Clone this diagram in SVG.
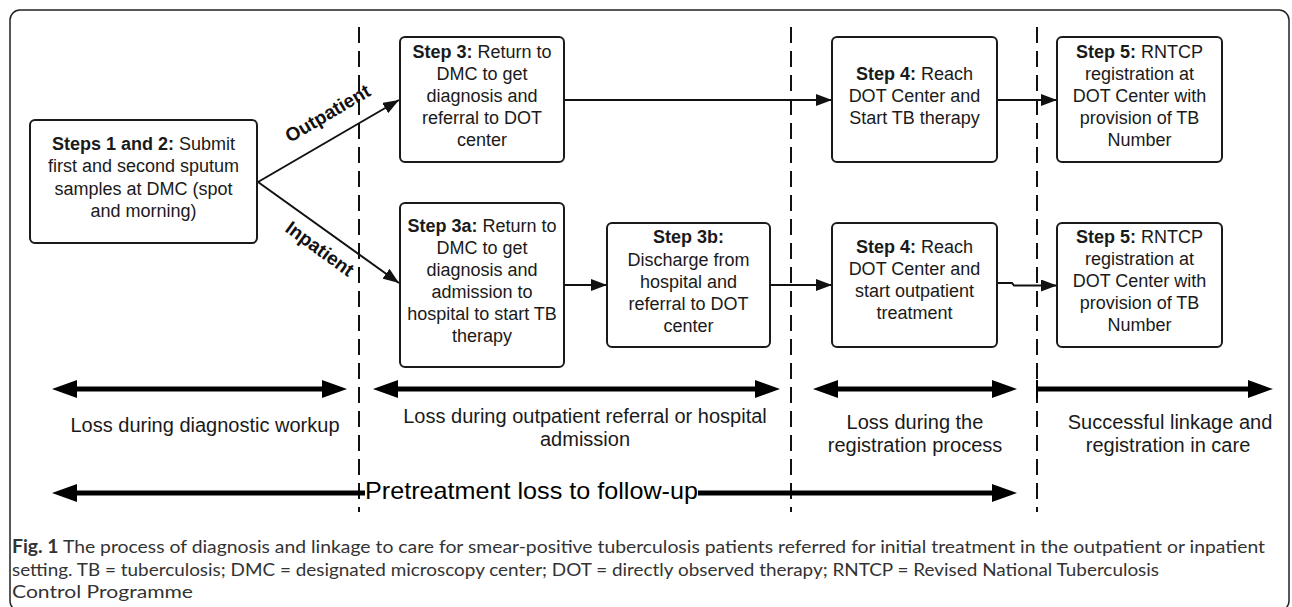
<svg xmlns="http://www.w3.org/2000/svg" width="1292" height="607" viewBox="0 0 1292 607">
<style>
.box{fill:#fff;stroke:#1a1a1a;stroke-width:2}
.t{font-family:"Liberation Sans",Arial,sans-serif;font-size:18px;fill:#1a1a1a;text-anchor:middle}
.b{font-weight:bold}
.lab{font-family:"Liberation Sans",Arial,sans-serif;font-size:20px;fill:#1a1a1a;text-anchor:middle}
.lbl{font-family:"Liberation Sans",Arial,sans-serif;font-size:19px;font-weight:bold;fill:#111;text-anchor:middle}
.conn{stroke:#111;stroke-width:2;fill:none}
.thick{stroke:#000;stroke-width:5;fill:none}
.dash{stroke:#111;stroke-width:2;stroke-dasharray:16 8;fill:none}
.cap{font-family:Lato,"Open Sans","Liberation Sans",sans-serif;font-size:18px;fill:#333}
</style>
<defs>
<marker id="ah" markerUnits="userSpaceOnUse" markerWidth="16" markerHeight="12" refX="16" refY="6" orient="auto"><path d="M0,0 L16,6 L0,12 z" fill="#111"/></marker>
<marker id="big" markerUnits="userSpaceOnUse" markerWidth="25" markerHeight="18" refX="0" refY="9" orient="auto-start-reverse"><path d="M0,0 L25,9 L0,18 z" fill="#000"/></marker>
</defs>
<rect x="10" y="10" width="1279" height="601" rx="10" fill="#fff" stroke="#222" stroke-width="1.5"/>
<g id="dividers">
<line class="dash" x1="359" y1="27" x2="359" y2="512"/>
<line class="dash" x1="791" y1="27" x2="791" y2="512"/>
<line class="dash" x1="1037" y1="27" x2="1037" y2="512"/>
</g>
<g id="connectors">
<line class="conn" x1="258" y1="182" x2="399" y2="100" marker-end="url(#ah)"/>
<line class="conn" x1="258" y1="182" x2="399" y2="283" marker-end="url(#ah)"/>
<line class="conn" x1="564" y1="100" x2="832" y2="100" marker-end="url(#ah)"/>
<line class="conn" x1="997" y1="100" x2="1057" y2="100" marker-end="url(#ah)"/>
<line class="conn" x1="564" y1="285" x2="607" y2="285" marker-end="url(#ah)"/>
<line class="conn" x1="770" y1="285" x2="832" y2="285" marker-end="url(#ah)"/>
<path class="conn" d="M997,283 H1012 L1014,285.5 H1057" marker-end="url(#ah)"/>
<text class="lbl" transform="translate(331,119) rotate(-30.5)">Outpatient</text>
<text class="lbl" transform="translate(316,254) rotate(36)">Inpatient</text>
</g>
<g id="step12">
<rect class="box" x="30" y="120" width="227" height="123" rx="5"/>
<text class="t" x="143.5" y="150"><tspan class="b">Steps 1 and 2:</tspan> Submit</text>
<text class="t" x="143.5" y="172">first and second sputum</text>
<text class="t" x="143.5" y="195">samples at DMC (spot</text>
<text class="t" x="143.5" y="217">and morning)</text>
</g>
<g id="step3">
<rect class="box" x="400" y="37" width="164" height="125" rx="5"/>
<text class="t" x="482" y="58"><tspan class="b">Step 3:</tspan> Return to</text>
<text class="t" x="482" y="80">DMC to get</text>
<text class="t" x="482" y="102">diagnosis and</text>
<text class="t" x="482" y="124">referral to DOT</text>
<text class="t" x="482" y="146">center</text>
</g>
<g id="step4a">
<rect class="box" x="832" y="37" width="165" height="125" rx="5"/>
<text class="t" x="914.5" y="80"><tspan class="b">Step 4:</tspan> Reach</text>
<text class="t" x="914.5" y="102">DOT Center and</text>
<text class="t" x="914.5" y="124">Start TB therapy</text>
</g>
<g id="step5a">
<rect class="box" x="1057" y="37" width="165" height="125" rx="5"/>
<text class="t" x="1139.5" y="58"><tspan class="b">Step 5:</tspan> RNTCP</text>
<text class="t" x="1139.5" y="80">registration at</text>
<text class="t" x="1139.5" y="102">DOT Center with</text>
<text class="t" x="1139.5" y="124">provision of TB</text>
<text class="t" x="1139.5" y="146">Number</text>
</g>
<g id="step3a">
<rect class="box" x="400" y="203" width="164" height="164" rx="5"/>
<text class="t" x="482" y="232"><tspan class="b">Step 3a:</tspan> Return to</text>
<text class="t" x="482" y="254">DMC to get</text>
<text class="t" x="482" y="276">diagnosis and</text>
<text class="t" x="482" y="298">admission to</text>
<text class="t" x="482" y="320">hospital to start TB</text>
<text class="t" x="482" y="342">therapy</text>
</g>
<g id="step3b">
<rect class="box" x="607" y="223" width="163" height="124" rx="5"/>
<text class="t b" x="688.5" y="243">Step 3b:</text>
<text class="t" x="688.5" y="266">Discharge from</text>
<text class="t" x="688.5" y="288">hospital and</text>
<text class="t" x="688.5" y="310">referral to DOT</text>
<text class="t" x="688.5" y="332">center</text>
</g>
<g id="step4b">
<rect class="box" x="832" y="223" width="165" height="124" rx="5"/>
<text class="t" x="914.5" y="253"><tspan class="b">Step 4:</tspan> Reach</text>
<text class="t" x="914.5" y="275">DOT Center and</text>
<text class="t" x="914.5" y="297">start outpatient</text>
<text class="t" x="914.5" y="319">treatment</text>
</g>
<g id="step5b">
<rect class="box" x="1057" y="223" width="165" height="124" rx="5"/>
<text class="t" x="1139.5" y="243"><tspan class="b">Step 5:</tspan> RNTCP</text>
<text class="t" x="1139.5" y="265">registration at</text>
<text class="t" x="1139.5" y="287">DOT Center with</text>
<text class="t" x="1139.5" y="309">provision of TB</text>
<text class="t" x="1139.5" y="331">Number</text>
</g>
<g id="phases">
<line class="thick" x1="77" y1="389" x2="322" y2="389" marker-start="url(#big)" marker-end="url(#big)"/>
<line class="thick" x1="398" y1="389" x2="755" y2="389" marker-start="url(#big)" marker-end="url(#big)"/>
<line class="thick" x1="838" y1="389" x2="992" y2="389" marker-start="url(#big)" marker-end="url(#big)"/>
<line class="thick" x1="1037" y1="389" x2="1248" y2="389" marker-end="url(#big)"/>
<line stroke="#000" stroke-width="2" x1="1037" y1="380" x2="1037" y2="399"/>
<text class="lab" x="205" y="432">Loss during diagnostic workup</text>
<text class="lab" x="585" y="423">Loss during outpatient referral or hospital</text>
<text class="lab" x="585" y="446">admission</text>
<text class="lab" x="915" y="429">Loss during the</text>
<text class="lab" x="915" y="452">registration process</text>
<text class="lab" x="1170" y="429">Successful linkage and</text>
<text class="lab" x="1168" y="452">registration in care</text>
<line class="thick" x1="77" y1="493" x2="365" y2="493" marker-start="url(#big)"/>
<line class="thick" x1="698" y1="493" x2="992" y2="493" marker-end="url(#big)"/>
<text x="365" y="499" font-family="Liberation Sans, Arial, sans-serif" font-size="24" fill="#000" textLength="333" lengthAdjust="spacingAndGlyphs">Pretreatment loss to follow-up</text>
</g>
<g id="caption">
<text class="cap" x="12" y="553" textLength="1253" lengthAdjust="spacingAndGlyphs"><tspan font-weight="bold">Fig. 1</tspan> The process of diagnosis and linkage to care for smear-positive tuberculosis patients referred for initial treatment in the outpatient or inpatient</text>
<text class="cap" x="12" y="576" textLength="1147" lengthAdjust="spacingAndGlyphs">setting. TB = tuberculosis; DMC = designated microscopy center; DOT = directly observed therapy; RNTCP = Revised National Tuberculosis</text>
<text class="cap" x="12" y="598" textLength="181" lengthAdjust="spacingAndGlyphs">Control Programme</text>
</g>
</svg>
